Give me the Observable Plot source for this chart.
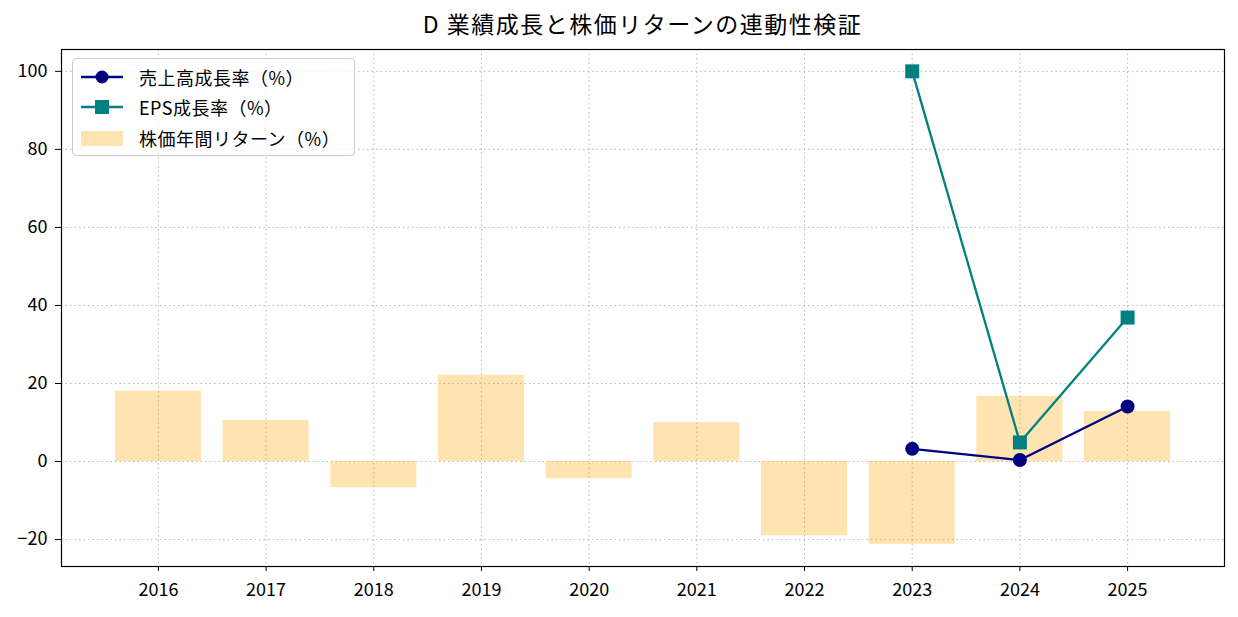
<!DOCTYPE html>
<html>
<head>
<meta charset="utf-8">
<script src="https://cdn.jsdelivr.net/npm/d3@7"></script>
<script src="https://cdn.jsdelivr.net/npm/@observablehq/plot@0.6"></script>
<style>
  body { margin: 0; background: white; font-family: "Noto Sans CJK JP", sans-serif; }
  #wrap { position: relative; width: 1238px; height: 617px; }
  #title { position: absolute; left: 0; top: 0; width: 1238px; height: 40px; }
  #title div { position: absolute; left: 61px; width: 1163px; top: 8px; text-align: center; font-size: 23px; letter-spacing: 1.5px; line-height: 30px; color: #000; }
  #chart { position: absolute; left: 0; top: 40px; }
  #legend { position: absolute; left: 72px; top: 58px; width: 281px; height: 96px; border: 1.2px solid #cccccc; border-radius: 4px; background: rgba(255,255,255,0.8); font-size: 18px; }
  .row { position: absolute; left: 0; height: 24px; display: flex; align-items: center; }
  .row svg { margin-left: 6px; }
  .row span { position: absolute; left: 66px; white-space: nowrap; line-height: 24px; letter-spacing: 0.5px; }
</style>
</head>
<body>
<div id="wrap">
  <div id="title"><div>D 業績成長と株価リターンの連動性検証</div></div>
  <div id="chart"></div>
  <div id="legend"></div>
</div>
<script>
const years = ["2016","2017","2018","2019","2020","2021","2022","2023","2024","2025"];
const stockReturn = [18.0, 10.5, -6.7, 22.1, -4.4, 10.0, -19.0, -21.2, 16.7, 12.8];
const revYears = ["2023","2024","2025"];
const revenueGrowth = [3.25, 0.4, 14.1];
const epsYears = ["2023","2024","2025"];
const epsGrowth = [100.0, 4.9, 36.9];
const yTicks = [-20, 0, 20, 40, 60, 80, 100];
const labels = ["売上高成長率（%）", "EPS成長率（%）", "株価年間リターン（%）"];

const bars = years.map((y, i) => ({year: y, value: stockReturn[i]}));
const rev = revYears.map((y, i) => ({year: y, value: revenueGrowth[i]}));
const eps = epsYears.map((y, i) => ({year: y, value: epsGrowth[i]}));

const grid = {stroke: "#b0b0b0", strokeOpacity: 0.9, strokeDasharray: "1.5,3", strokeWidth: 1};

const chart = Plot.plot({
  width: 1238,
  height: 577,
  marginTop: 9,
  marginBottom: 51,
  marginLeft: 61,
  marginRight: 14,
  style: {fontFamily: "'Noto Sans CJK JP', sans-serif", fontSize: "18px", color: "black", background: "white"},
  x: {type: "band", domain: years, paddingInner: 0.2, paddingOuter: 0.5, round: false, label: null},
  y: {domain: [-26.9, 105.6], ticks: yTicks, label: null},
  marks: [
    Plot.gridX(years, {...grid}),
    Plot.gridY(yTicks, {...grid}),
    Plot.barY(bars, {x: "year", y: "value", fill: "orange", fillOpacity: 0.3}),
    Plot.line(rev, {x: "year", y: "value", stroke: "#000080", strokeWidth: 2.3}),
    Plot.dot(rev, {x: "year", y: "value", fill: "#000080", r: 7, symbol: "circle"}),
    Plot.line(eps, {x: "year", y: "value", stroke: "#008080", strokeWidth: 2.3}),
    Plot.dot(eps, {x: "year", y: "value", fill: "#008080", r: 7.9, symbol: "square"}),
    Plot.frame({stroke: "black", strokeWidth: 1.2}),
    Plot.axisX({tickSize: 5, tickPadding: 12, fontSize: 18}),
    Plot.axisY(yTicks, {tickSize: 6, tickPadding: 8, fontSize: 18})
  ]
});
document.getElementById("chart").appendChild(chart);

const legend = document.getElementById("legend");
const swatches = [
  `<svg width="46" height="20"><line x1="2" y1="10" x2="44" y2="10" stroke="#000080" stroke-width="2.3"/><circle cx="23" cy="10" r="6.5" fill="#000080"/></svg>`,
  `<svg width="46" height="20"><line x1="2" y1="10" x2="44" y2="10" stroke="#008080" stroke-width="2.3"/><rect x="16" y="3" width="14" height="14" fill="#008080"/></svg>`,
  `<svg width="46" height="20"><rect x="2" y="3" width="42" height="15" fill="orange" fill-opacity="0.3"/></svg>`
];
const rowTops = [6, 36, 67];
labels.forEach((t, i) => {
  const r = document.createElement("div");
  r.className = "row";
  r.style.top = rowTops[i] + "px";
  r.innerHTML = swatches[i] + `<span>${t}</span>`;
  legend.appendChild(r);
});
</script>
</body>
</html>
